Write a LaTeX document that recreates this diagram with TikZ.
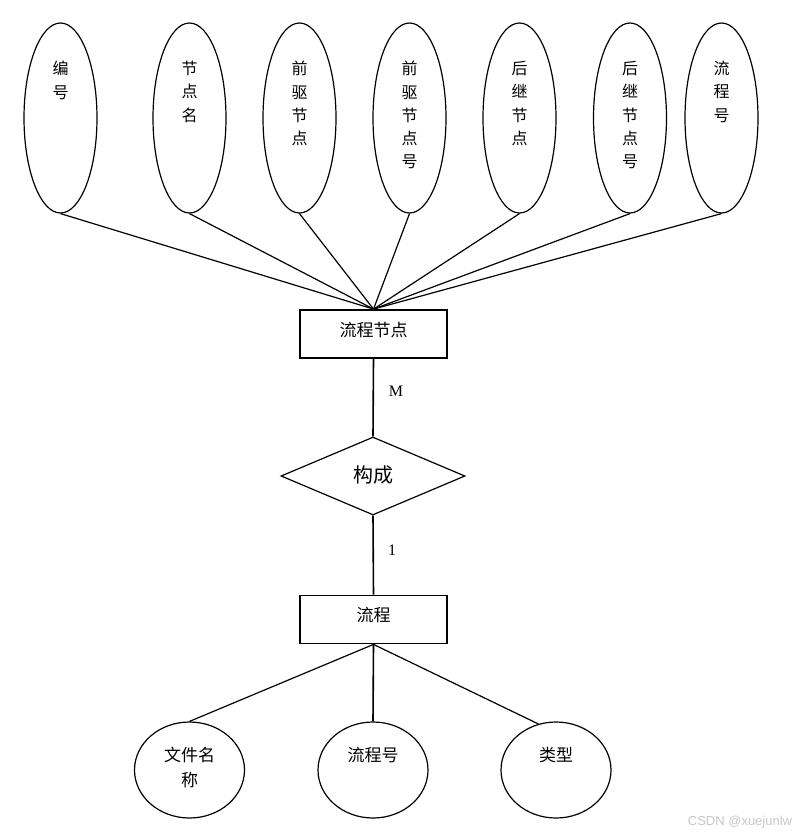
\documentclass[tikz,border=0pt]{standalone}
\usepackage{fontspec}
\setmainfont{Liberation Serif}
\newfontfamily\cjk{Noto Sans CJK SC}
\newfontfamily\wmfont{Liberation Sans}
\usetikzlibrary{shapes.geometric}
\begin{document}
\begin{tikzpicture}[x=1pt,y=-1pt,
  attr/.style={ellipse, draw, line width=1.2pt, minimum width=73pt, minimum height=190pt, inner sep=0pt},
  battr/.style={ellipse, draw, line width=1.2pt, minimum width=110pt, minimum height=96pt, inner sep=0pt},
  vtext/.style={anchor=north, inner sep=0pt, align=center, font={\cjk\fontsize{16}{23.3}\selectfont}},
  ctext/.style={inner sep=0pt, align=center, font={\cjk\fontsize{17}{25}\selectfont}},
  entity/.style={rectangle, draw, line width=1.8pt, minimum width=147pt, minimum height=48pt, inner sep=0pt},
  rel/.style={diamond, draw, line width=1.2pt, minimum width=184pt, minimum height=78pt, inner sep=0pt},
  conn/.style={line width=1.2pt},
  vconn/.style={line width=1.6pt},
  card/.style={inner sep=0pt, font={\fontsize{16}{18}\selectfont}}
]
\useasboundingbox (0,0) rectangle (810,839);

% top attribute ellipses
\node[attr] (e1) at (60.5,118) {};
\node[attr] (e2) at (189.5,118) {};
\node[attr] (e3) at (299.5,118) {};
\node[attr] (e4) at (409.5,118) {};
\node[attr] (e5) at (519.5,118) {};
\node[attr] (e6) at (630,118) {};
\node[attr] (e7) at (721.5,118) {};

\node[vtext] (t1) at (60.5,61) {编\\号};
\node[vtext] (t2) at (189.5,61) {节\\点\\名};
\node[vtext] (t3) at (299.5,61) {前\\驱\\节\\点};
\node[vtext] (t4) at (409.5,61) {前\\驱\\节\\点\\号};
\node[vtext] (t5) at (519.5,61) {后\\继\\节\\点};
\node[vtext] (t6) at (630,61) {后\\继\\节\\点\\号};
\node[vtext] (t7) at (721.5,61) {流\\程\\号};

% entity 流程节点
\node[entity] (n1) at (373.5,334) {};
\node[ctext] (n1t) at (373.5,330) {流程节点};

\foreach \i in {1,...,7} {
  \draw[conn] (e\i.south) -- (n1.north);
}

% relation
\node[rel] (r) at (373,476) {};
\node[inner sep=0pt, font={\cjk\fontsize{20}{22}\selectfont}] (rt) at (373,475) {构成};

% entity 流程
\node[entity] (n2) at (373.5,619.5) {};
\node[ctext] (n2t) at (373.5,615) {流程};

\draw[vconn] (n1.south) -- (r.north);
\draw[vconn] (r.south) -- (n2.north);
\node[card] (m) at (396,391) {M};
\node[card] (one) at (392,550) {1};

% bottom attribute ellipses
\node[battr] (b1) at (189.5,770) {};
\node[battr] (b2) at (373,770) {};
\node[battr] (b3) at (556,770) {};
\node[ctext] (b1t) at (189.5,767.5) {文件名\\称};
\node[ctext] (b2t) at (373,755) {流程号};
\node[ctext] (b3t) at (556,755) {类型};

\draw[conn] (n2.south) -- (b1.north);
\draw[vconn] (n2.south) -- (b2.north);
\draw[conn] (n2.south) -- (b3.111);

% watermark
\node[inner sep=0pt, text=black!22, font={\wmfont\fontsize{13}{15}\selectfont}] (wm) at (740,822) {CSDN @xuejunlw};
\end{tikzpicture}
\end{document}
